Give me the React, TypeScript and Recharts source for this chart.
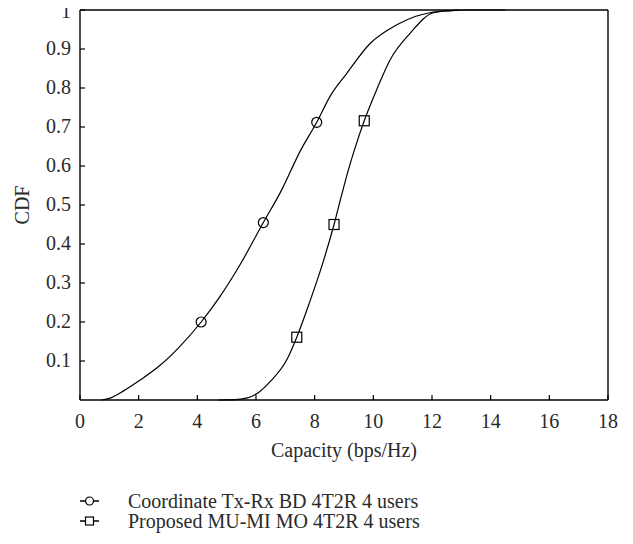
import React from "react"
import { LineChart, Line, XAxis, YAxis, Legend } from "recharts"

// Coordinate Tx-Rx BD 4T2R 4 users
const coordX = [0.75, 1.0, 1.5, 2.05, 2.7, 3.4, 4.13, 4.77, 5.45, 6.25, 6.85, 7.52, 8.07, 8.52, 9.09, 9.89, 10.8, 11.45, 11.93, 12.5, 12.9]
const coordY = [0, 0.004, 0.024, 0.051, 0.087, 0.137, 0.2, 0.265, 0.346, 0.455, 0.535, 0.64, 0.712, 0.778, 0.837, 0.914, 0.962, 0.984, 0.993, 0.998, 1.0]
const coordMarks = [6, 9, 12]

// Proposed MU-MI MO 4T2R 4 users
const propX = [4.72, 5.3, 5.74, 6.1, 6.48, 7.05, 7.39, 7.8, 8.2, 8.66, 8.9, 9.15, 9.35, 9.69, 10.11, 10.57, 11.25, 12.05, 12.6, 13.2, 14.5]
const propY = [0, 0.001, 0.006, 0.02, 0.047, 0.103, 0.161, 0.245, 0.333, 0.45, 0.52, 0.59, 0.64, 0.716, 0.795, 0.872, 0.94, 0.993, 0.998, 1.0, 1.0]
const propMarks = [6, 9, 13]

const xTicks = [0, 2, 4, 6, 8, 10, 12, 14, 16, 18]
const yTicks = [0.1, 0.2, 0.3, 0.4, 0.5, 0.6, 0.7, 0.8, 0.9, 1]

const seriesNames = ["Coordinate Tx-Rx BD 4T2R 4 users", "Proposed MU-MI MO 4T2R 4 users"]

const coordData = coordX.map((x, i) => ({ x, y: coordY[i] }))
const propData = propX.map((x, i) => ({ x, y: propY[i] }))

const FONT = "'Liberation Serif', 'Times New Roman', serif"
const TEXT = "#2a2a2a"
const TICK = 5

// tick label + inward tick mark (labels sit tickMargin away from the axis)
const BottomTick = (props: any) => {
  const { x, y, payload } = props
  return (
    <g>
      <line x1={x} y1={y - 18} x2={x} y2={y - 18 - TICK} stroke="#000" strokeWidth={1.2} />
      <text x={x} y={y} dy={10} textAnchor="middle" fontSize={20} fontFamily={FONT} fill={TEXT}>
        {payload.value}
      </text>
    </g>
  )
}

const LeftTick = (props: any) => {
  const { x, y, payload } = props
  // keep the top label ("1") inside the picture
  const dy = Math.max(6, 18 - y)
  return (
    <g>
      <line x1={x + 8} y1={y} x2={x + 8 + TICK} y2={y} stroke="#000" strokeWidth={1.2} />
      <text x={x - 1} y={y} dy={dy} textAnchor="end" fontSize={20} fontFamily={FONT} fill={TEXT}>
        {payload.value}
      </text>
    </g>
  )
}

const TopTick = (props: any) => {
  const { x, y } = props
  return <line x1={x} y1={y} x2={x} y2={y + TICK} stroke="#000" strokeWidth={1.2} />
}

const RightTick = (props: any) => {
  const { x, y } = props
  return <line x1={x} y1={y} x2={x - TICK} y2={y} stroke="#000" strokeWidth={1.2} />
}

const circleDot = (props: any) => {
  const { cx, cy, index } = props
  if (!coordMarks.includes(index)) return <g key={index} />
  return <circle key={index} cx={cx} cy={cy} r={5} fill="none" stroke="#000" strokeWidth={1.2} />
}

const squareDot = (props: any) => {
  const { cx, cy, index } = props
  if (!propMarks.includes(index)) return <g key={index} />
  return <rect key={index} x={cx - 5} y={cy - 5} width={10} height={10} fill="none" stroke="#000" strokeWidth={1.2} />
}

function LegendBox() {
  return (
    <div style={{ fontFamily: FONT, fontSize: 20, color: TEXT, paddingTop: 5 }}>
      {seriesNames.map((name, i) => (
        <div key={name} style={{ display: "flex", alignItems: "center", height: 20 }}>
          <svg width={48} height={14} style={{ flex: "none" }}>
            <line x1={0} y1={7} x2={19} y2={7} stroke="#000" strokeWidth={1.5} />
            {i === 0 ? (
              <circle cx={9.5} cy={7} r={4} fill="white" stroke="#000" strokeWidth={1.2} />
            ) : (
              <rect x={5.5} y={3} width={8} height={8} fill="white" stroke="#000" strokeWidth={1.2} />
            )}
          </svg>
          <span style={{ whiteSpace: "nowrap" }}>{name}</span>
        </div>
      ))}
    </div>
  )
}

const axisLine = { stroke: "#000", strokeWidth: 1.4 }

export default function App() {
  return (
    <div style={{ margin: "-8px 0 0 -8px", width: 633, height: 544 }}>
      <LineChart
        width={633}
        height={544}
        margin={{ top: 9, right: 24, bottom: 8, left: 0 }}
      >
        <XAxis
          xAxisId="b"
          type="number"
          dataKey="x"
          domain={[0, 18]}
          ticks={xTicks}
          height={86}
          tickSize={0}
          tickMargin={18}
          tickLine={false}
          tick={BottomTick}
          axisLine={axisLine}
          label={{ value: "Capacity (bps/Hz)", position: "insideBottom", offset: 29, fill: TEXT, style: { fontSize: 20, fontFamily: FONT, fill: TEXT } }}
        />
        <XAxis
          xAxisId="t"
          orientation="top"
          type="number"
          dataKey="x"
          domain={[0, 18]}
          ticks={xTicks}
          height={1}
          tickSize={0}
          tickMargin={0}
          tickLine={false}
          tick={TopTick}
          axisLine={axisLine}
        />
        <YAxis
          yAxisId="l"
          type="number"
          domain={[0, 1]}
          ticks={yTicks}
          width={80}
          tickSize={0}
          tickMargin={8}
          tickLine={false}
          tick={LeftTick}
          axisLine={axisLine}
          label={{ value: "CDF", angle: -90, position: "insideLeft", offset: 22, fill: TEXT, style: { textAnchor: "middle", fontSize: 20, fontFamily: FONT, fill: TEXT } }}
        />
        <YAxis
          yAxisId="r"
          orientation="right"
          type="number"
          domain={[0, 1]}
          ticks={yTicks}
          width={1}
          tickSize={0}
          tickMargin={0}
          tickLine={false}
          tick={RightTick}
          axisLine={axisLine}
        />
        <Legend
          verticalAlign="bottom"
          height={50}
          content={() => <LegendBox />}
          wrapperStyle={{ left: 80, width: 420 }}
        />
        <Line
          xAxisId="b"
          yAxisId="l"
          data={coordData}
          dataKey="y"
          name={seriesNames[0]}
          stroke="#000"
          strokeWidth={1.2}
          dot={circleDot}
          activeDot={false}
          type="monotone"
          isAnimationActive={false}
        />
        <Line
          xAxisId="b"
          yAxisId="l"
          data={propData}
          dataKey="y"
          name={seriesNames[1]}
          stroke="#000"
          strokeWidth={1.2}
          dot={squareDot}
          activeDot={false}
          type="monotone"
          isAnimationActive={false}
        />
      </LineChart>
    </div>
  )
}
